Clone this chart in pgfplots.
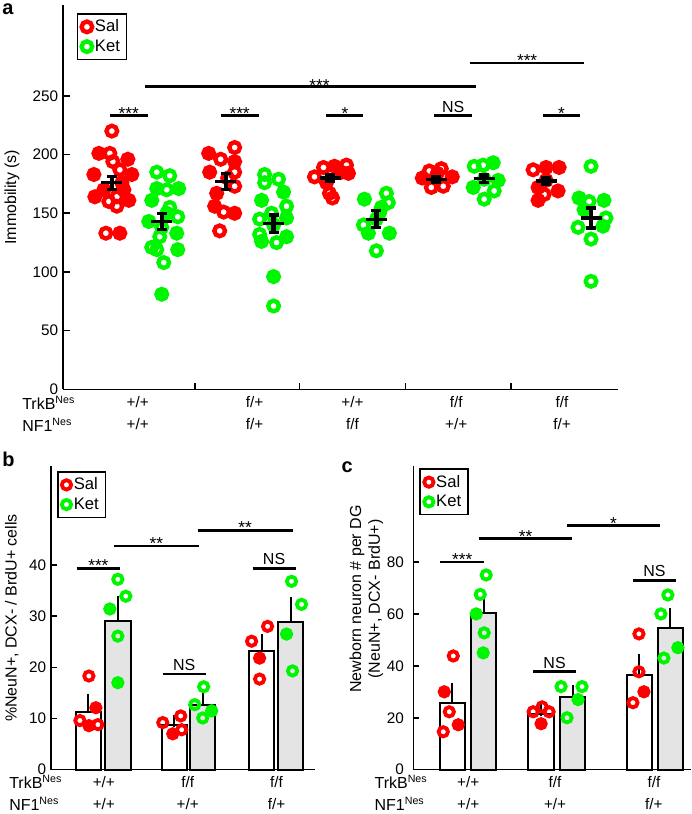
\documentclass[border=0pt]{standalone}
\usepackage{pgfplots}
\pgfplotsset{compat=1.18}
\usepackage{fontspec}
\setmainfont{Liberation Sans}
\definecolor{myred}{RGB}{255,0,0}
\definecolor{mygreen}{RGB}{0,245,0}
\definecolor{bargray}{RGB}{228,228,228}
\pgfplotsset{
  panel/.style={scale only axis, axis x line=bottom, axis y line=left,
    axis line style={-, line width=1.2pt},
    tick align=inside, major tick length=4.5pt,
    tick style={black, line width=1.2pt},
    /pgf/number format/assume math mode=true,
    tick label style={font=\fontsize{11.5}{16.5}\selectfont},
    xticklabel style={align=center, font=\fontsize{11.5}{16.5}\selectfont, yshift=-1.5pt},
    clip=false, clip marker paths=true,
    legend cell align=left,
    legend image code/.code={\draw[mark repeat=2,mark phase=2,##1] plot coordinates {(0cm,0cm) (0.25cm,0cm) (0.5cm,0cm)};},
    legend style={draw=black, line width=1.2pt, font=\fontsize{12.5}{14}\selectfont, inner xsep=3pt, inner ysep=2.5pt, row sep=0.5pt, anchor=north west, nodes={inner sep=2pt}},
    ylabel style={font=\fontsize{12}{14}\selectfont, anchor=center}},
  salo/.style={only marks, mark=o, mark size=#1, draw=myred, mark options={line width=0.82*#1, draw=myred}},
  salf/.style={only marks, mark=*, mark size=#1, draw=myred, fill=myred, mark options={line width=0.82*#1, draw=myred, fill=myred}},
  keto/.style={only marks, mark=o, mark size=#1, draw=mygreen, mark options={line width=0.82*#1, draw=mygreen}},
  ketf/.style={only marks, mark=*, mark size=#1, draw=mygreen, fill=mygreen, mark options={line width=0.82*#1, draw=mygreen, fill=mygreen}},
  bars/.style={ybar, bar shift=0pt, bar width=25.5, draw=black, line width=1.5pt, fill=#1, forget plot,
    error bars/.cd, y dir=plus, y explicit, error bar style={line width=1.5pt, black}, error mark options={mark size=4.5pt, line width=1.5pt, black}},
  segs/.style={black, line width=#1, forget plot, unbounded coords=jump, mark=none},
}
\newcommand{\sigS}[4]{\draw[line width=2.2pt] (axis cs:#1,#3) -- (axis cs:#2,#3) node[midway, above, inner sep=0pt, yshift=-3.8pt, font=\fontsize{13}{15}\selectfont]{#4};}
\newcommand{\sigT}[4]{\draw[line width=2.2pt] (axis cs:#1,#3) -- (axis cs:#2,#3) node[midway, above, inner sep=1.2pt, font=\fontsize{12}{14}\selectfont]{#4};}
\begin{document}
\begin{tikzpicture}
\begin{scope}[x=0.75pt,y=-0.75pt]
\useasboundingbox (0,0) rectangle (690,814);
\node[anchor=north west, inner sep=0pt, font=\bfseries\fontsize{15}{17}\selectfont] at (0,3) {a};
\node[anchor=north west, inner sep=0pt, font=\bfseries\fontsize{15}{17}\selectfont] at (0,453) {b};
\node[anchor=north west, inner sep=0pt, font=\bfseries\fontsize{15}{17}\selectfont] at (340,462) {c};
\node[anchor=base west, inner sep=0pt, font=\fontsize{12}{14}\selectfont] at (20,410) {TrkB\textsuperscript{Nes}};
\node[anchor=base west, inner sep=0pt, font=\fontsize{12}{14}\selectfont] at (20,432) {NF1\textsuperscript{Nes}};
\node[anchor=base west, inner sep=0pt, font=\fontsize{12}{14}\selectfont] at (7,790) {TrkB\textsuperscript{Nes}};
\node[anchor=base west, inner sep=0pt, font=\fontsize{12}{14}\selectfont] at (7,812) {NF1\textsuperscript{Nes}};
\node[anchor=base west, inner sep=0pt, font=\fontsize{12}{14}\selectfont] at (373,790) {TrkB\textsuperscript{Nes}};
\node[anchor=base west, inner sep=0pt, font=\fontsize{12}{14}\selectfont] at (373,812) {NF1\textsuperscript{Nes}};
\end{scope}

% ---------------- panel a ----------------
\begin{axis}[panel, at={(45.75pt,-292.5pt)}, anchor=south west, width=417pt, height=288.75pt,
  xmin=61, xmax=617, ymin=0, ymax=327.4,
  ytick={0,50,100,150,200,250},
  xtick={193,298,404,510}, xticklabels={}, major tick length=5pt,
  extra x ticks={136,253,351,455,561},
  extra x tick labels={{+/+\\+/+},{f/+\\f/+},{+/+\\f/f},{f/f\\+/+},{f/f\\f/+}},
  extra x tick style={major tick length=0pt},
  ylabel={Immobility (s)}, ylabel style={at={(axis description cs:-0.092,0.5)}},
  legend style={at={(rel axis cs:0.025,0.979)}}]
\addplot[salo=4pt] table[row sep=\\]{x y\\
110 220\\ 108 201\\ 111 194\\ 118 187\\ 115 164\\ 107 160\\ 115 156\\ 104 133\\
233 206\\ 219 196\\ 233 185\\ 233 173\\ 222 151\\ 218 135\\ 226 180\\
313 181\\ 322 189\\ 345 191\\ 328 167\\ 331 163\\
428 186\\ 440 188\\ 430 172\\ 442 173\\
532 187\\ 543 166\\};
\addlegendentry{Sal}
\addplot[keto=4pt] table[row sep=\\]{x y\\
155 185\\ 168 182\\ 165 170\\ 168 155\\ 176 147\\ 160 138\\ 158 130\\ 150 121\\ 155 119\\ 162 108\\
263 183\\ 277 179\\ 263 176\\ 285 156\\ 258 145\\ 270 150\\ 258 132\\ 275 125\\ 272 71\\
385 167\\ 387 159\\ 362 140\\ 375 118\\ 378 150\\
473 190\\ 482 191\\ 493 169\\ 483 162\\
590 190\\ 605 146\\ 577 138\\ 590 128\\ 590 92\\ 588 160\\};
\addlegendentry{Ket}
\addplot[salf=4pt, forget plot] table[row sep=\\]{x y\\
97 201\\ 126 196\\ 92 183\\ 130 183\\ 120 176\\ 93 164\\ 127 161\\ 102 170\\ 118 133\\ 122 170\\
207 201\\ 233 194\\ 208 185\\ 215 167\\ 213 156\\ 233 150\\
333 190\\ 347 184\\ 325 176\\ 340 185\\
421 180\\ 451 181\\ 436 184\\
545 189\\ 558 189\\ 537 172\\ 557 169\\ 537 161\\ 545 178\\};
\addplot[ketf=4pt, forget plot] table[row sep=\\]{x y\\
155 171\\ 177 171\\ 150 161\\ 147 143\\ 175 133\\ 176 119\\ 160 81\\ 165 150\\
282 168\\ 260 161\\ 285 146\\ 260 126\\ 285 130\\ 272 96\\ 272 140\\
363 162\\ 367 133\\ 388 133\\ 375 145\\ 380 155\\
492 193\\ 472 172\\ 497 178\\ 483 179\\
578 163\\ 603 161\\ 583 153\\ 602 139\\};
% SEM: vertical parts
\addplot[segs=3.2pt] coordinates {
(110,170.5)(110,181.5)(110,nan)
(224,170)(224,184)(224,nan)
(329,177)(329,183)(329,nan)
(435,176.5)(435,181.5)(435,nan)
(545,174.5)(545,180.5)(545,nan)
(160,136)(160,150)(160,nan)
(272,133.5)(272,148.5)(272,nan)
(375,138)(375,152)(375,nan)
(483,176.5)(483,182.5)(483,nan)
(590,137.5)(590,154.5)};
% SEM: caps
\addplot[segs=2.4pt] coordinates {
(105,170.5)(115,170.5)(115,nan) (105,181.5)(115,181.5)(115,nan)
(219,170)(229,170)(229,nan) (219,184)(229,184)(229,nan)
(324,177)(334,177)(334,nan) (324,183)(334,183)(334,nan)
(430,176.5)(440,176.5)(440,nan) (430,181.5)(440,181.5)(440,nan)
(540,174.5)(550,174.5)(550,nan) (540,180.5)(550,180.5)(550,nan)
(155,136)(165,136)(165,nan) (155,150)(165,150)(165,nan)
(267,133.5)(277,133.5)(277,nan) (267,148.5)(277,148.5)(277,nan)
(370,138)(380,138)(380,nan) (370,152)(380,152)(380,nan)
(478,176.5)(488,176.5)(488,nan) (478,182.5)(488,182.5)(488,nan)
(585,137.5)(595,137.5)(595,nan) (585,154.5)(595,154.5)};
% means
\addplot[segs=2.4pt] coordinates {
(99.5,176)(120.5,176)(120,nan)
(213.5,177)(234.5,177)(234,nan)
(318.5,180)(339.5,180)(339,nan)
(424.5,179)(445.5,179)(445,nan)
(534.5,177.5)(555.5,177.5)(555,nan)
(149.5,143)(170.5,143)(170,nan)
(261.5,141)(282.5,141)(282,nan)
(364.5,145)(385.5,145)(385,nan)
(472.5,179.5)(493.5,179.5)(493,nan)
(579.5,146)(600.5,146)};
\sigS{108}{146}{233}{***}
\sigS{219}{257}{233}{***}
\sigS{325}{362}{233}{*}
\sigT{433}{471}{233}{NS}
\sigS{542}{579}{233}{*}
\draw[line width=2.2pt] (axis cs:143,258) -- (axis cs:475,258);
\node[font=\fontsize{13}{15}\selectfont, anchor=south, inner sep=0pt, yshift=-3.8pt] at (axis cs:318,258) {***};
\sigS{469}{583}{278}{***}
\end{axis}

% ---------------- panel b ----------------
\begin{axis}[panel, at={(36.75pt,-578.25pt)}, anchor=south west, width=198pt, height=228pt,
  xmin=49, xmax=313, ymin=0, ymax=59.3,
  ytick={0,10,20,30,40},
  xtick={102,186,275}, xticklabels={{+/+\\+/+},{f/f\\+/+},{f/f\\f/+}},
  x tick style={draw=none},
  ylabel={\%NeuN+, DCX- / BrdU+ cells}, ylabel style={at={(axis description cs:-0.148,0.5)}},
  legend style={at={(rel axis cs:0.023,0.984)}}]
\addplot[bars=white] table[row sep=\\, y error=e]{x y e\\ 86.5 11.3 2.3\\ 172.5 8.8 0.8\\ 260 23.2 2.1\\};
\addplot[bars=bargray] table[row sep=\\, y error=e]{x y e\\ 116 29 3.7\\ 201 12.7 1.3\\ 289 28.8 3.8\\};
\addplot[salo=3.5pt] table[row sep=\\]{x y\\
87 18.3\\ 78 9.6\\ 96 8.8\\ 161 9.2\\ 179 10.5\\ 180 7.8\\ 266 28.0\\ 250 25.1\\ 258 17.7\\};
\addlegendentry{Sal}
\addplot[keto=3.5pt] table[row sep=\\]{x y\\
116 37.2\\ 124 33.9\\ 116 26.1\\ 202 16.2\\ 193 12.7\\ 201 10.1\\ 290 36.8\\ 300 32.3\\ 291 19.3\\};
\addlegendentry{Ket}
\addplot[salf=3.5pt, forget plot] table[row sep=\\]{x y\\ 94 12.1\\ 87 8.6\\ 171 7.0\\ 258 21.8\\};
\addplot[ketf=3.5pt, forget plot] table[row sep=\\]{x y\\ 108 31.4\\ 116 17\\ 210 11.5\\ 285 26.5\\};
\sigS{75}{118}{39.4}{***}
\sigS{112}{197}{43.7}{**}
\sigS{196}{291}{46.8}{**}
\sigT{251}{294}{39.4}{NS}
\sigT{161}{204}{18.7}{NS}
\end{axis}

% ---------------- panel c ----------------
\begin{axis}[panel, at={(309pt,-578.25pt)}, anchor=south west, width=208.5pt, height=228pt,
  xmin=412, xmax=690, ymin=0, ymax=116.9,
  ytick={0,20,40,60,80}, yticklabel style={xshift=-3.5pt},
  xtick={467,554,653}, xticklabels={{+/+\\+/+},{f/f\\+/+},{f/f\\f/+}},
  x tick style={draw=none},
  ylabel={Newborn neuron \# per DG\\(NeuN+, DCX- BrdU+)},
  ylabel style={align=center, at={(axis description cs:-0.169,0.5625)}},
  legend style={at={(rel axis cs:0.022,0.993)}}]
\addplot[bars=white] table[row sep=\\, y error=e]{x y e\\ 451 25.8 5.4\\ 540 21.3 1.5\\ 638.5 36.5 5.8\\};
\addplot[bars=bargray] table[row sep=\\, y error=e]{x y e\\ 482.5 60.3 4.7\\ 571.5 28 2.4\\ 669.5 54.6 5.4\\};
\addplot[salo=3.5pt] table[row sep=\\]{x y\\
452 43.8\\ 448 22.3\\ 442 14.6\\ 532 22.3\\ 541 24.2\\ 548 22.3\\ 638 52.3\\ 638 37.7\\ 632 25.8\\};
\addlegendentry{Sal}
\addplot[keto=3.5pt] table[row sep=\\]{x y\\
485 75\\ 479 67.5\\ 483 52.7\\ 560 32\\ 581 32\\ 566 20\\ 667 67.3\\ 660 60\\ 663 43\\};
\addlegendentry{Ket}
\addplot[salf=3.5pt, forget plot] table[row sep=\\]{x y\\ 443 30\\ 457 17.3\\ 540 17.7\\ 643 30\\};
\addplot[ketf=3.5pt, forget plot] table[row sep=\\]{x y\\ 475 60\\ 482 45\\ 577 27\\ 677 47\\};
\sigS{439}{483}{80}{***}
\sigS{478}{571}{89}{**}
\sigS{566}{659}{94}{*}
\sigT{632}{675}{73}{NS}
\sigT{532}{575}{37.7}{NS}
\end{axis}
\end{tikzpicture}
\end{document}
